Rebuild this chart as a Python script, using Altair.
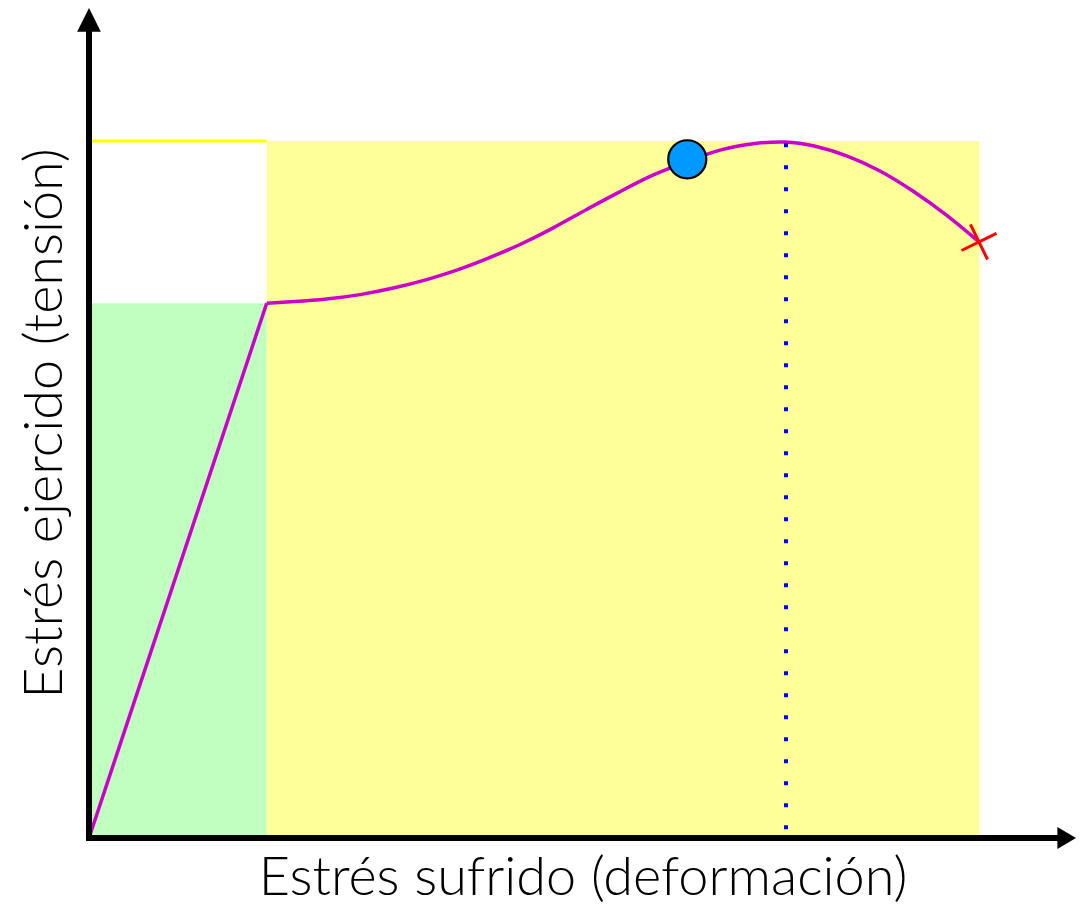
import altair as alt
import pandas as pd

# ---- data (strain, stress in % of axis length) ----
elastic_x = [0.0, 17.86]
elastic_y = [0.0, 64.42]

plastic_x = [17.86, 20.53, 23.89, 27.24, 30.58, 33.94, 37.29, 39.97, 43.32, 46.66, 50.02,
             53.37, 56.71, 60.13, 63.42, 66.76, 70.05, 72.79, 76.15, 79.50, 82.84, 86.20, 89.45]
plastic_y = [64.42, 64.61, 64.90, 65.42, 66.23, 67.23, 68.52, 69.76, 71.45, 73.46, 75.76,
             77.87, 79.98, 81.51, 83.01, 83.73, 83.98, 83.49, 82.29, 80.48, 77.98, 75.10, 71.81]

elastic_zone = {"x": 0.0, "x2": 17.86, "y": 0.0, "y2": 64.42}
plastic_zone = {"x": 17.86, "x2": 89.5, "y": 0.0, "y2": 83.98}
max_line = {"x": 0.0, "x2": 17.86, "y": 83.98}
uts = {"x": 70.05, "y": 83.7, "y2": 0.0}
necking_point = {"x": 60.13, "y": 81.77}
fracture_point = {"x": 89.45, "y": 71.81}
x_axis_end = 99.2
y_axis_end = 100.0

x_title = "Estrés sufrido (deformación)"
y_title = "Estrés ejercido (tensión)"

FONT = "Lato"
TITLE_SIZE = 54

xs = alt.Scale(domain=[0, x_axis_end], nice=False, zero=False)
ys = alt.Scale(domain=[0, y_axis_end], nice=False, zero=False)

ax_x = alt.Axis(title=x_title, domain=False, ticks=False, labels=False, grid=False,
                titleFont=FONT, titleFontSize=TITLE_SIZE, titleFontWeight=300,
                titleColor="black", titlePadding=13)
ax_y = alt.Axis(title=y_title, domain=False, ticks=False, labels=False, grid=False,
                titleFont=FONT, titleFontSize=TITLE_SIZE, titleFontWeight=300,
                titleColor="black", titlePadding=17)


def X(field):
    return alt.X(field, type="quantitative", scale=xs, axis=ax_x)


def Y(field):
    return alt.Y(field, type="quantitative", scale=ys, axis=ax_y)


green = alt.Chart(pd.DataFrame([elastic_zone])).mark_rect(color="#c0ffc0").encode(
    x=X("x"), x2="x2:Q", y=Y("y"), y2="y2:Q"
)

yellow = alt.Chart(pd.DataFrame([plastic_zone])).mark_rect(color="#ffff99").encode(
    x=X("x"), x2="x2:Q", y=Y("y"), y2="y2:Q"
)

top_line = alt.Chart(pd.DataFrame([max_line])).mark_rule(color="#ffff00", strokeWidth=3).encode(
    x=X("x"), x2="x2:Q", y=Y("y")
)

elastic = alt.Chart(pd.DataFrame({"x": elastic_x, "y": elastic_y})).mark_line(
    color="#cc00cc", strokeWidth=3.5
).encode(x=X("x"), y=Y("y"))

plastic = alt.Chart(pd.DataFrame({"x": plastic_x, "y": plastic_y})).mark_line(
    color="#cc00cc", strokeWidth=3.5, interpolate="basis"
).encode(x=X("x"), y=Y("y"))

dotted = alt.Chart(pd.DataFrame([uts])).mark_rule(
    color="#0000ff", strokeWidth=4, strokeDash=[4, 18], strokeCap="butt"
).encode(x=X("x"), y=Y("y"), y2="y2:Q")

circle = alt.Chart(pd.DataFrame([necking_point])).mark_point(
    shape="circle", filled=True, fill="#0099ff", stroke="black", strokeWidth=2.2,
    size=1450, opacity=1
).encode(x=X("x"), y=Y("y"))

cross = alt.Chart(pd.DataFrame([fracture_point])).mark_point(
    shape="M-1,0L1,0M0,-1L0,1", filled=False, stroke="#ff0000", strokeWidth=3,
    size=1521, angle=334, opacity=1
).encode(x=X("x"), y=Y("y"))

axes_df = pd.DataFrame([
    {"x": 0.0, "x2": 0.0, "y": 0.0, "y2": y_axis_end - 2.5},
    {"x": -0.3, "x2": x_axis_end - 1.8, "y": 0.0, "y2": 0.0},
])
axes = alt.Chart(axes_df).mark_rule(color="black", strokeWidth=6, strokeCap="butt").encode(
    x=X("x"), x2="x2:Q", y=Y("y"), y2="y2:Q"
)

arrow_up = alt.Chart(pd.DataFrame([{"x": 0.0, "y": y_axis_end}])).mark_point(
    shape="M0,0L1,2L-1,2Z", filled=True, color="black", size=560, opacity=1
).encode(x=X("x"), y=Y("y"))

arrow_right = alt.Chart(pd.DataFrame([{"x": x_axis_end, "y": 0.0}])).mark_point(
    shape="M0,0L-1.7,-1L-1.7,1Z", filled=True, color="black", size=480, opacity=1
).encode(x=X("x"), y=Y("y"))

chart = alt.layer(
    green, yellow, top_line, elastic, plastic, dotted, circle, cross, axes, arrow_up, arrow_right
).properties(
    width=987, height=830,
    autosize=alt.AutoSizeParams(type="none"),
    padding={"left": 81, "top": 0, "right": 0, "bottom": 67},
).configure_view(stroke=None)

chart.save("out.html", embed_options={"renderer": "svg", "actions": False})
